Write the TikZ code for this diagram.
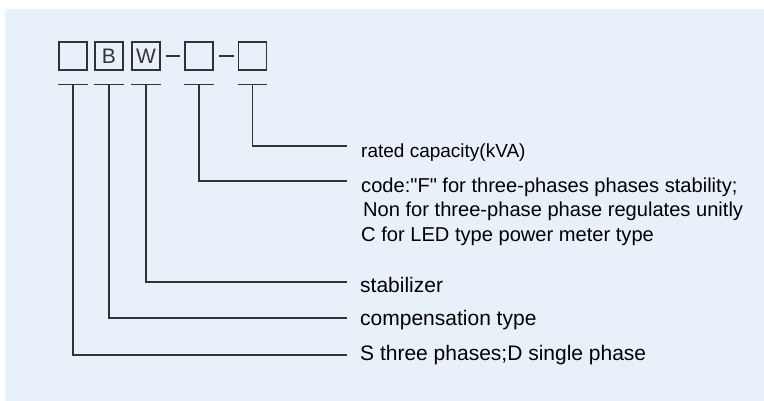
\documentclass[tikz,border=0pt]{standalone}
\usepackage{fontspec}
\setmainfont{Liberation Sans}
\newfontfamily\labfont{Liberation Sans}
\usetikzlibrary{calc}
\definecolor{bgblue}{HTML}{E8F1FA}
\definecolor{ink}{HTML}{333333}
\begin{document}
\begin{tikzpicture}[x=1pt,y=-1pt,
  codebox/.style={draw=ink,line width=1.4pt,minimum width=28pt,minimum height=28pt,inner sep=0pt,
    font=\labfont\fontsize{21}{21}\selectfont,text=ink},
  lead/.style={draw=ink,line width=1.1pt},
  dashline/.style={draw=ink,line width=1.5pt},
  lbl/.style={anchor=base west,inner sep=0pt,text=black},
  lblS/.style={lbl,font=\labfont\fontsize{19}{24}\selectfont},
  lblM/.style={lbl,font=\labfont\fontsize{20.1}{24}\selectfont},
  lblL/.style={lbl,font=\labfont\fontsize{21}{24}\selectfont}]
\useasboundingbox (0,0) rectangle (764,401);
\fill[white] (0,0) rectangle (764,401);
\fill[bgblue] (5,9) rectangle (764,401);
% boxes
\node[codebox] (b1) at (73,56) {};
\node[codebox] (b2) at (109,56) {B};
\node[codebox] (b3) at (146,56) {W};
\node[codebox] (b4) at (199,56) {};
\node[codebox] (b5) at (252.5,56) {};
\draw[dashline] ($(b3.east)+(5,0)$) -- ($(b4.west)+(-4,0)$);
\draw[dashline] ($(b4.east)+(5,0)$) -- ($(b5.west)+(-4,0)$);
% labels
\node[lblS] (t5) at (361,158) {rated capacity(kVA)};
\node[lblM] (t4) at (361,193) {code:"F" for three-phases phases stability;};
\node[lblM] (t4b) at (363,217) {Non for three-phase phase regulates unitly};
\node[lblM] (t4c) at (361,242) {C for LED type power meter type};
\node[lblL] (t3) at (360,292) {stabilizer};
\node[lblL] (t2) at (360,325) {compensation type};
\node[lblL] (t1) at (360,360) {S three phases;D single phase};
% line ends
\coordinate (e5) at (347,146);
\coordinate (e4) at (347,181);
\coordinate (e3) at (347,282);
\coordinate (e2) at (347,318);
\coordinate (e1) at (347,355);
% T bars and leaders
\foreach \b/\e in {b1/e1,b2/e2,b3/e3,b4/e4,b5/e5}{
  \draw[lead] ($(\b.south west)+(0,14)$) -- ($(\b.south east)+(0,14)$);
  \draw[lead] ($(\b.south)+(0,14)$) |- (\e);
}
\end{tikzpicture}
\end{document}
